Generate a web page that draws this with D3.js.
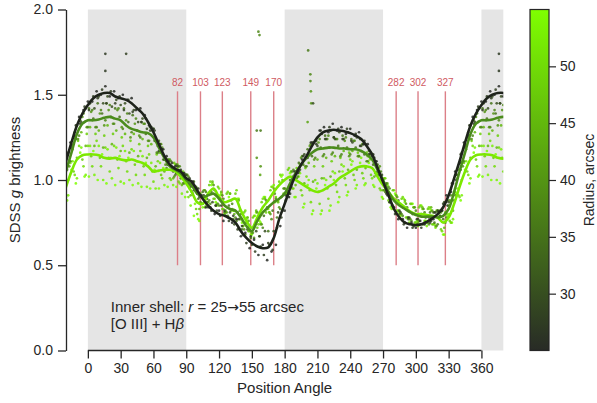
<!DOCTYPE html>
<html>
<head>
<meta charset="utf-8">
<script src="https://cdn.jsdelivr.net/npm/d3@7"></script>
<style>
  body { margin: 0; background: #fff; }
  text { font-family: "Liberation Sans", Arial, sans-serif; fill: #262626; }
</style>
</head>
<body>
<svg id="chart" width="597" height="403"></svg>
<script>
// Smoothed profiles, PA 0..360 every 5 degrees
var lineAngles = d3.range(0, 361, 5)
var line25 = [1.44, 1.48, 1.50, 1.51, 1.51, 1.49, 1.48, 1.47, 1.45, 1.42, 1.39, 1.34, 1.28, 1.21, 1.14, 1.09, 1.065, 1.05,
  1.01, 0.99, 0.94, 0.89, 0.85, 0.82, 0.80, 0.79, 0.775, 0.75, 0.70, 0.66, 0.63, 0.61, 0.60, 0.605, 0.66, 0.77,
  0.86, 0.95, 1.03, 1.09, 1.14, 1.20, 1.25, 1.28, 1.29, 1.295, 1.29, 1.285, 1.275, 1.26, 1.24, 1.20, 1.15, 1.07,
  0.99, 0.91, 0.83, 0.78, 0.75, 0.74, 0.735, 0.74, 0.755, 0.775, 0.80, 0.84, 0.91, 1.01, 1.11, 1.22, 1.32, 1.39, 1.44]
var line40 = [1.35, 1.35, 1.355, 1.365, 1.37, 1.36, 1.35, 1.32, 1.30, 1.29, 1.28, 1.275, 1.25, 1.19, 1.13, 1.08, 1.06, 1.04,
  1.00, 0.97, 0.92, 0.90, 0.91, 0.92, 0.89, 0.85, 0.83, 0.82, 0.78, 0.73, 0.70, 0.76, 0.81, 0.84, 0.87, 0.89,
  0.92, 0.98, 1.04, 1.09, 1.13, 1.16, 1.18, 1.185, 1.19, 1.19, 1.185, 1.185, 1.18, 1.18, 1.17, 1.15, 1.12, 1.06,
  1.00, 0.93, 0.88, 0.85, 0.83, 0.81, 0.795, 0.785, 0.785, 0.785, 0.78, 0.79, 0.83, 0.93, 1.05, 1.16, 1.27, 1.33, 1.35]
var line55 = [1.15, 1.15, 1.145, 1.13, 1.125, 1.13, 1.12, 1.115, 1.12, 1.11, 1.10, 1.08, 1.05, 1.055, 1.06, 1.06, 1.05, 1.02,
  0.98, 0.93, 0.87, 0.86, 0.92, 0.95, 0.90, 0.87, 0.88, 0.89, 0.82, 0.76, 0.72, 0.78, 0.84, 0.88, 0.93, 0.97,
  1.00, 1.02, 1.00, 0.98, 0.96, 0.94, 0.93, 0.94, 0.96, 0.98, 1.01, 1.03, 1.05, 1.07, 1.08, 1.08, 1.07, 1.02,
  0.97, 0.93, 0.89, 0.865, 0.84, 0.815, 0.80, 0.80, 0.795, 0.79, 0.78, 0.75, 0.78, 0.86, 0.96, 1.05, 1.12, 1.145, 1.15]
var lineColors = ['#1e231b', '#4b8c1c', '#7ce800']

// Individual measurements per radius, every 4 degrees starting at scatterStart
var scatterRadii = [25, 28, 30, 35, 38, 40, 45, 48, 50, 53, 55]
var scatterStart = [0, 1, 2, 1, 0, 3, 2, 3, 0, 2, 1]
var pts25 = [1.46, 1.46, 1.52, 1.50, 1.55, 1.49, 1.52, 1.48, 1.50, 1.47, 1.48, 1.41, 1.42, 1.38, 1.32, 1.30, 1.20, 1.18,
  1.14, 1.08, 1.08, 1.04, 1.04, 0.98, 0.99, 0.92, 0.91, 0.84, 0.84, 0.80, 0.82, 0.76, 0.78, 0.75, 0.77, 0.67,
  0.69, 0.60, 0.65, 0.56, 0.62, 0.53, 0.58, 0.62, 0.73, 0.82, 0.90, 1.02, 1.04, 1.12, 1.13, 1.22, 1.23, 1.29,
  1.31, 1.28, 1.33, 1.29, 1.31, 1.27, 1.30, 1.26, 1.28, 1.21, 1.21, 1.14, 1.11, 1.00, 0.97, 0.87, 0.84, 0.77,
  0.77, 0.72, 0.75, 0.72, 0.76, 0.74, 0.78, 0.77, 0.82, 0.82, 0.91, 0.93, 1.05, 1.10, 1.22, 1.26, 1.37, 1.41]
var pts28 = [1.41, 1.49, 1.48, 1.53, 1.45, 1.52, 1.45, 1.49, 1.41, 1.47, 1.40, 1.42, 1.34, 1.36, 1.29, 1.29, 1.17, 1.18,
  1.09, 1.10, 1.04, 1.06, 1.00, 1.01, 0.94, 0.95, 0.86, 0.89, 0.82, 0.85, 0.79, 0.82, 0.76, 0.79, 0.71, 0.73,
  0.63, 0.67, 0.58, 0.67, 0.56, 0.63, 0.59, 0.72, 0.78, 0.91, 0.92, 1.05, 1.05, 1.14, 1.13, 1.22, 1.21, 1.29,
  1.24, 1.31, 1.25, 1.30, 1.24, 1.30, 1.23, 1.27, 1.20, 1.23, 1.15, 1.15, 1.05, 1.03, 0.92, 0.91, 0.80, 0.82,
  0.74, 0.78, 0.72, 0.77, 0.72, 0.78, 0.75, 0.81, 0.78, 0.86, 0.85, 0.98, 1.00, 1.15, 1.19, 1.32, 1.33, 1.43]
var pts30 = [1.45, 1.42, 1.49, 1.45, 1.49, 1.43, 1.47, 1.44, 1.45, 1.39, 1.41, 1.34, 1.36, 1.30, 1.31, 1.23, 1.21, 1.12,
  1.11, 1.05, 1.08, 1.03, 1.03, 0.96, 0.96, 0.90, 0.91, 0.84, 0.87, 0.82, 0.85, 0.79, 0.81, 0.74, 0.77, 0.68,
  0.71, 0.62, 0.70, 0.61, 0.70, 0.62, 0.70, 0.81, 0.82, 0.94, 0.96, 1.05, 1.06, 1.15, 1.15, 1.22, 1.20, 1.27,
  1.24, 1.29, 1.24, 1.28, 1.24, 1.28, 1.22, 1.25, 1.20, 1.21, 1.15, 1.13, 1.03, 1.00, 0.91, 0.89, 0.81, 0.81,
  0.75, 0.78, 0.73, 0.77, 0.74, 0.79, 0.76, 0.81, 0.79, 0.87, 0.87, 0.98, 1.03, 1.16, 1.20, 1.32, 1.34, 1.42]
var pts35 = [1.42, 1.36, 1.45, 1.39, 1.45, 1.37, 1.42, 1.37, 1.42, 1.34, 1.38, 1.29, 1.34, 1.27, 1.31, 1.23, 1.23, 1.12,
  1.12, 1.06, 1.09, 1.01, 1.03, 0.97, 0.99, 0.89, 0.93, 0.87, 0.93, 0.85, 0.89, 0.81, 0.85, 0.77, 0.81, 0.71,
  0.75, 0.66, 0.74, 0.67, 0.79, 0.70, 0.82, 0.78, 0.90, 0.88, 1.00, 1.00, 1.10, 1.09, 1.18, 1.14, 1.23, 1.19,
  1.26, 1.19, 1.25, 1.20, 1.26, 1.19, 1.24, 1.19, 1.24, 1.15, 1.17, 1.09, 1.09, 0.99, 0.98, 0.87, 0.88, 0.80,
  0.84, 0.77, 0.80, 0.74, 0.80, 0.75, 0.81, 0.75, 0.81, 0.77, 0.88, 0.88, 1.03, 1.06, 1.21, 1.24, 1.35, 1.34]
var pts38 = [1.31, 1.41, 1.31, 1.41, 1.35, 1.44, 1.33, 1.42, 1.30, 1.39, 1.28, 1.36, 1.25, 1.33, 1.23, 1.30, 1.16, 1.19,
  1.07, 1.11, 1.03, 1.08, 0.98, 1.02, 0.92, 0.95, 0.86, 0.93, 0.86, 0.94, 0.85, 0.89, 0.79, 0.86, 0.76, 0.80,
  0.68, 0.73, 0.66, 0.79, 0.72, 0.84, 0.77, 0.89, 0.83, 0.95, 0.92, 1.06, 1.02, 1.14, 1.08, 1.21, 1.13, 1.24,
  1.15, 1.26, 1.16, 1.24, 1.15, 1.25, 1.15, 1.23, 1.14, 1.21, 1.11, 1.15, 1.03, 1.05, 0.93, 0.95, 0.83, 0.88,
  0.79, 0.84, 0.76, 0.82, 0.74, 0.81, 0.74, 0.81, 0.74, 0.82, 0.78, 0.91, 0.91, 1.10, 1.11, 1.28, 1.26, 1.39]
var pts40 = [1.40, 1.31, 1.39, 1.32, 1.41, 1.33, 1.41, 1.31, 1.35, 1.25, 1.33, 1.26, 1.33, 1.23, 1.29, 1.16, 1.21, 1.09,
  1.12, 1.02, 1.08, 0.98, 1.03, 0.93, 0.96, 0.87, 0.94, 0.88, 0.97, 0.86, 0.91, 0.81, 0.88, 0.78, 0.82, 0.71,
  0.76, 0.69, 0.81, 0.74, 0.88, 0.80, 0.92, 0.84, 0.95, 0.92, 1.05, 1.01, 1.13, 1.08, 1.20, 1.12, 1.22, 1.14,
  1.24, 1.15, 1.24, 1.14, 1.23, 1.14, 1.23, 1.14, 1.21, 1.11, 1.16, 1.04, 1.08, 0.94, 0.96, 0.85, 0.90, 0.80,
  0.86, 0.77, 0.84, 0.76, 0.83, 0.75, 0.82, 0.73, 0.81, 0.75, 0.88, 0.88, 1.06, 1.08, 1.25, 1.24, 1.37, 1.31]
var pts45 = [1.31, 1.20, 1.29, 1.19, 1.32, 1.21, 1.29, 1.17, 1.27, 1.16, 1.27, 1.14, 1.24, 1.13, 1.21, 1.08, 1.16, 1.05,
  1.12, 1.01, 1.09, 0.97, 1.03, 0.91, 0.96, 0.83, 0.94, 0.87, 0.99, 0.86, 0.93, 0.82, 0.92, 0.80, 0.88, 0.73,
  0.78, 0.69, 0.82, 0.74, 0.89, 0.81, 0.95, 0.87, 1.00, 0.93, 1.05, 0.97, 1.09, 0.98, 1.10, 0.99, 1.12, 1.01,
  1.13, 1.02, 1.14, 1.05, 1.17, 1.06, 1.17, 1.06, 1.17, 1.07, 1.15, 1.02, 1.07, 0.94, 0.98, 0.85, 0.91, 0.80,
  0.88, 0.77, 0.84, 0.75, 0.84, 0.75, 0.84, 0.73, 0.82, 0.72, 0.85, 0.82, 1.01, 1.00, 1.18, 1.13, 1.28, 1.20]
var pts48 = [1.14, 1.27, 1.13, 1.26, 1.13, 1.27, 1.12, 1.25, 1.11, 1.23, 1.09, 1.21, 1.08, 1.20, 1.05, 1.15, 1.03, 1.13,
  1.01, 1.10, 0.99, 1.05, 0.93, 0.98, 0.83, 0.92, 0.84, 0.97, 0.89, 0.96, 0.83, 0.92, 0.82, 0.92, 0.77, 0.81,
  0.70, 0.78, 0.72, 0.87, 0.81, 0.94, 0.87, 0.99, 0.92, 1.06, 0.95, 1.07, 0.94, 1.07, 0.94, 1.08, 0.93, 1.08,
  0.95, 1.11, 0.97, 1.13, 1.01, 1.16, 1.03, 1.16, 1.04, 1.16, 1.03, 1.11, 0.95, 1.01, 0.88, 0.94, 0.82, 0.89,
  0.78, 0.86, 0.75, 0.84, 0.74, 0.83, 0.74, 0.82, 0.71, 0.81, 0.76, 0.93, 0.91, 1.11, 1.05, 1.23, 1.12, 1.27]
var pts50 = [1.20, 1.08, 1.23, 1.08, 1.19, 1.05, 1.20, 1.07, 1.20, 1.05, 1.18, 1.03, 1.17, 1.03, 1.15, 0.99, 1.11, 1.01,
  1.11, 1.00, 1.09, 0.98, 1.04, 0.90, 0.96, 0.80, 0.90, 0.85, 0.99, 0.89, 0.95, 0.83, 0.93, 0.83, 0.94, 0.77,
  0.82, 0.70, 0.79, 0.74, 0.89, 0.83, 0.96, 0.90, 1.03, 0.95, 1.07, 0.95, 1.06, 0.91, 1.02, 0.87, 1.00, 0.86,
  1.01, 0.89, 1.05, 0.93, 1.09, 0.97, 1.12, 1.00, 1.14, 1.01, 1.14, 1.01, 1.09, 0.94, 1.01, 0.87, 0.94, 0.82,
  0.90, 0.78, 0.86, 0.75, 0.85, 0.76, 0.84, 0.74, 0.82, 0.70, 0.80, 0.75, 0.93, 0.90, 1.10, 1.03, 1.20, 1.08]
var pts53 = [1.20, 1.03, 1.20, 1.00, 1.18, 1.01, 1.19, 0.99, 1.17, 1.00, 1.17, 0.98, 1.14, 0.96, 1.10, 0.95, 1.10, 0.97,
  1.09, 0.97, 1.07, 0.92, 1.00, 0.85, 0.86, 0.76, 0.89, 0.85, 0.98, 0.85, 0.92, 0.81, 0.92, 0.82, 0.89, 0.73,
  0.78, 0.68, 0.81, 0.75, 0.90, 0.81, 0.97, 0.88, 1.03, 0.92, 1.05, 0.90, 1.04, 0.86, 1.00, 0.82, 0.98, 0.82,
  1.00, 0.85, 1.04, 0.90, 1.08, 0.93, 1.11, 0.97, 1.13, 0.98, 1.12, 0.96, 1.04, 0.89, 0.97, 0.83, 0.91, 0.79,
  0.87, 0.75, 0.84, 0.73, 0.83, 0.73, 0.82, 0.72, 0.79, 0.68, 0.80, 0.77, 0.95, 0.91, 1.11, 1.01, 1.19, 1.03]
var pts55 = [1.02, 1.17, 1.00, 1.15, 0.98, 1.13, 0.97, 1.14, 0.98, 1.13, 0.97, 1.11, 0.96, 1.10, 0.95, 1.06, 0.95, 1.07,
  0.96, 1.06, 0.96, 1.03, 0.90, 0.95, 0.79, 0.77, 0.84, 0.86, 0.97, 0.87, 0.91, 0.80, 0.90, 0.82, 0.89, 0.75,
  0.77, 0.68, 0.79, 0.76, 0.90, 0.83, 0.96, 0.88, 1.02, 0.92, 1.04, 0.90, 1.02, 0.84, 0.97, 0.80, 0.95, 0.80,
  0.97, 0.82, 1.00, 0.87, 1.05, 0.91, 1.09, 0.95, 1.10, 0.97, 1.10, 0.97, 1.04, 0.90, 0.97, 0.84, 0.92, 0.81,
  0.89, 0.78, 0.86, 0.76, 0.85, 0.76, 0.83, 0.74, 0.81, 0.68, 0.79, 0.75, 0.92, 0.88, 1.06, 0.98, 1.16, 1.02]
var scatterValues = [pts25, pts28, pts30, pts35, pts38, pts40, pts45, pts48, pts50, pts53, pts55]

// stray points well off the profiles
var strayPA = [16, 16, 35, 156, 157, 154.5, 158, 154.5, 158, 157.6, 203.5, 201.5, 203.6, 204, 204.3, 201, 206]
var strayValue = [1.64, 1.74, 1.74, 1.87, 1.85, 1.29, 1.29, 1.13, 1.08, 1.03, 1.62, 1.76, 1.58, 1.52, 1.45, 1.34, 1.45]
var strayRadius = [27, 27, 28, 38, 38, 36, 36, 40, 40, 42, 38, 36, 38, 40, 40, 42, 30]

// marked position angles
var markAngles = [82, 103, 123, 149, 170, 282, 302, 327]
var bands = [[0, 90], [180, 270], [360, 380]]
var xTicks = d3.range(0, 361, 30)
var yTicks = [0, 0.5, 1.0, 1.5, 2.0]
var cbTicks = [30, 35, 40, 45, 50]

var svg = d3.select('#chart')

var xPositionScale = d3.scaleLinear().domain([-20, 380]).range([66, 503.3])
var yPositionScale = d3.scaleLinear().domain([0, 2]).range([350.5, 9.5])
var colorScale = d3.scaleLinear().domain([25, 55]).range(['#282b26', '#7fff00'])

svg.append('clipPath').attr('id', 'plot-clip')
  .append('rect')
  .attr('x', 66).attr('y', 9.5)
  .attr('width', 503.3 - 66).attr('height', 341)

// grey quadrant bands
svg.selectAll('.band')
  .data(bands)
  .enter().append('rect')
  .attr('class', 'band')
  .attr('x', d => xPositionScale(d[0]))
  .attr('width', d => xPositionScale(d[1]) - xPositionScale(d[0]))
  .attr('y', yPositionScale(2))
  .attr('height', yPositionScale(0) - yPositionScale(2))
  .attr('fill', '#e5e5e5')

// red markers
svg.selectAll('.mark')
  .data(markAngles)
  .enter().append('line')
  .attr('class', 'mark')
  .attr('x1', d => xPositionScale(d)).attr('x2', d => xPositionScale(d))
  .attr('y1', yPositionScale(0.5)).attr('y2', yPositionScale(1.52))
  .attr('stroke', '#dc7f88')
  .attr('stroke-width', 1.4)

svg.selectAll('.mark-label')
  .data(markAngles)
  .enter().append('text')
  .attr('class', 'mark-label')
  .attr('x', d => xPositionScale(d))
  .attr('y', yPositionScale(1.55))
  .attr('text-anchor', 'middle')
  .attr('font-size', 10)
  .style('fill', '#d05a62')
  .text(d => d)

// flatten scatter, with wrap-around copies
var points = []
scatterRadii.forEach(function(r, i) {
  scatterValues[i].forEach(function(v, j) {
    points.push({ pa: scatterStart[i] + 4 * j, v: v, r: r })
  })
})
strayPA.forEach(function(pa, i) {
  points.push({ pa: pa, v: strayValue[i], r: strayRadius[i] })
})
var plotted = []
points.forEach(function(p) {
  plotted.push(p)
  if (p.pa >= 340) plotted.push({ pa: p.pa - 360, v: p.v, r: p.r })
  if (p.pa <= 20) plotted.push({ pa: p.pa + 360, v: p.v, r: p.r })
})
plotted.sort((a, b) => b.r - a.r)

var dots = svg.append('g').attr('clip-path', 'url(#plot-clip)')
dots.selectAll('circle')
  .data(plotted)
  .enter().append('circle')
  .attr('cx', d => xPositionScale(d.pa))
  .attr('cy', d => yPositionScale(d.v))
  .attr('r', 1.35)
  .attr('fill', d => colorScale(d.r))
  .attr('opacity', 0.85)

// smoothed lines
var profile = d3.line()
  .x(d => xPositionScale(d[0]))
  .y(d => yPositionScale(d[1]))
  .curve(d3.curveCatmullRom)

var lineSeries = [line25, line40, line55]
var lines = svg.append('g').attr('clip-path', 'url(#plot-clip)')
lineSeries.slice().reverse().forEach(function(vals, k) {
  var idx = lineSeries.length - 1 - k
  var ext = []
  lineAngles.forEach(function(a, j) { if (a >= 335 && a < 360) ext.push([a - 360, vals[j]]) })
  lineAngles.forEach(function(a, j) { ext.push([a, vals[j]]) })
  lineAngles.forEach(function(a, j) { if (a > 0 && a <= 25) ext.push([a + 360, vals[j]]) })
  lines.append('path')
    .datum(ext)
    .attr('d', profile)
    .attr('fill', 'none')
    .attr('stroke', lineColors[idx])
    .attr('stroke-width', 2.6)
})

// axes
var yAxis = d3.axisLeft(yPositionScale).tickValues(yTicks).tickFormat(d3.format('.1f'))
  .tickSize(8).tickPadding(5).tickSizeOuter(0)
svg.append('g').attr('class', 'axis y-axis')
  .attr('transform', 'translate(66,0)')
  .call(yAxis)

var xAxis = d3.axisBottom(xPositionScale).tickValues(xTicks).tickSize(8).tickPadding(5).tickSizeOuter(0)
var xg = svg.append('g').attr('class', 'axis x-axis')
  .attr('transform', 'translate(0,350.5)')
  .call(xAxis)
xg.select('.domain').remove()
xg.append('line')
  .attr('x1', xPositionScale(0)).attr('x2', xPositionScale(360))

svg.selectAll('.axis .domain, .axis line').attr('stroke', '#262626').attr('stroke-width', 1.3)
svg.selectAll('.axis text').attr('font-size', 14).style('fill', '#262626')
  .attr('font-family', '"Liberation Sans", Arial, sans-serif')

svg.append('text')
  .attr('x', xPositionScale(180))
  .attr('y', 393)
  .attr('text-anchor', 'middle')
  .attr('font-size', 15)
  .text('Position Angle')

var ylab = svg.append('text')
  .attr('transform', 'translate(20,' + yPositionScale(1) + ') rotate(-90)')
  .attr('text-anchor', 'middle')
  .attr('font-size', 15)
ylab.append('tspan').text('SDSS ')
ylab.append('tspan').attr('font-style', 'italic').text('g')
ylab.append('tspan').text(' brightness')

// annotation, two lines
var note = svg.append('text')
  .attr('x', xPositionScale(21))
  .attr('y', 311.5)
  .attr('font-size', 15)
note.append('tspan').text('Inner shell: ')
note.append('tspan').attr('font-style', 'italic').text('r')
note.append('tspan').text(' = 25')
note.append('tspan').attr('font-family', '"DejaVu Sans", sans-serif').attr('font-size', 14).text('\u2192')
note.append('tspan').text('55 arcsec')
var note2 = svg.append('text')
  .attr('x', xPositionScale(21))
  .attr('y', 328.5)
  .attr('font-size', 15)
note2.append('tspan').text('[O III] + H')
note2.append('tspan').attr('font-style', 'italic').text('\u03b2')

// colorbar
var cbScale = d3.scaleLinear().domain([25, 55]).range([350.5, 9.5])
var grad = svg.append('defs').append('linearGradient')
  .attr('id', 'cb-grad')
  .attr('x1', 0).attr('y1', 1).attr('x2', 0).attr('y2', 0)
grad.append('stop').attr('offset', 0).attr('stop-color', colorScale(25))
grad.append('stop').attr('offset', 1).attr('stop-color', colorScale(55))

svg.append('rect')
  .attr('x', 530).attr('y', 9.5)
  .attr('width', 19).attr('height', 341)
  .attr('fill', 'url(#cb-grad)')
  .attr('stroke', '#262626')
  .attr('stroke-width', 1.2)

var cbAxis = d3.axisRight(cbScale).tickValues(cbTicks).tickSize(7).tickPadding(4).tickSizeOuter(0)
var cg = svg.append('g').attr('class', 'cb-axis')
  .attr('transform', 'translate(549,0)')
  .call(cbAxis)
cg.select('.domain').remove()
cg.selectAll('line').attr('stroke', '#262626').attr('stroke-width', 1.2)
cg.selectAll('text').attr('font-size', 14).style('fill', '#262626')
  .attr('font-family', '"Liberation Sans", Arial, sans-serif')

svg.append('text')
  .attr('transform', 'translate(594,' + cbScale(40) + ') rotate(-90)')
  .attr('text-anchor', 'middle')
  .attr('font-size', 14)
  .text('Radius, arcsec')
</script>
</body>
</html>
